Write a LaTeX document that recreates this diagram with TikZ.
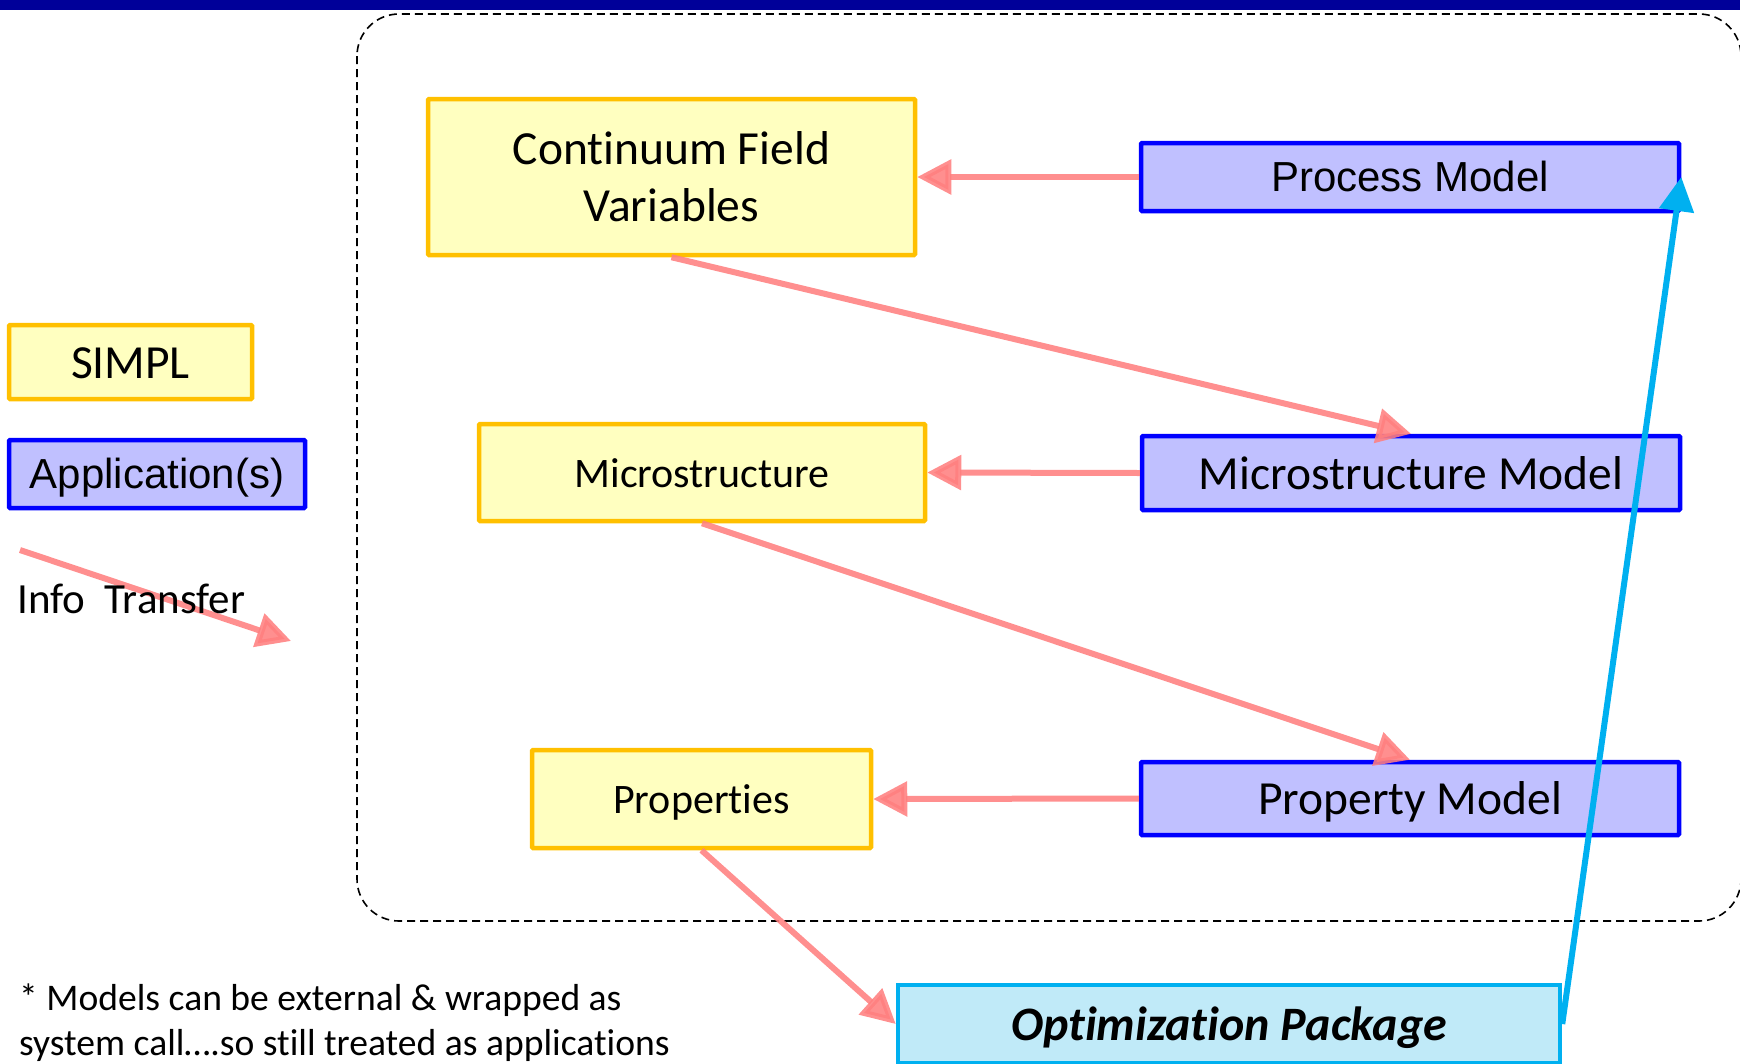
\documentclass[tikz,border=0pt]{standalone}
\usepackage{fontspec}
\setmainfont{Carlito}[Ligatures=NoCommon]
\newfontfamily\arialfont{Liberation Sans}
\usetikzlibrary{arrows.meta}

\definecolor{simplfill}{HTML}{FFFFC0}
\definecolor{simpldraw}{HTML}{FFC000}
\definecolor{appfill}{HTML}{C0C0FF}
\definecolor{appdraw}{HTML}{0000FF}
\definecolor{optfill}{HTML}{C0EAF8}
\definecolor{optdraw}{HTML}{00B0F0}
\definecolor{infored}{HTML}{FF7F7F}
\definecolor{topbar}{HTML}{000099}

\begin{document}
\begin{tikzpicture}[x=1pt, y=-1pt,
  simplbox/.style={draw=simpldraw, fill=simplfill, line width=4.5pt,
    inner sep=0pt, align=center, rounded corners=1pt},
  appbox/.style={draw=appdraw, fill=appfill, line width=4.5pt,
    inner sep=0pt, align=center, rounded corners=1pt},
  optbox/.style={draw=optdraw, fill=optfill, line width=4.5pt,
    inner sep=0pt, align=center},
  oneline/.style={text height=#1, text depth=0pt},
  bigtxt/.style={font=\fontsize{47.5}{57}\selectfont, oneline=32.8pt},
  midtxt/.style={font=\fontsize{42}{50}\selectfont, oneline=29pt},
  ariatxt/.style={font=\arialfont\fontsize{42}{50}\selectfont, oneline=29pt},
  flow/.style={draw=infored, opacity=0.88, line width=6pt,
    -{Triangle[length=34pt,width=34pt]}},
  optflow/.style={draw=optdraw, line width=6pt,
    -{Triangle[length=34pt,width=34pt]}},
  note/.style={font=\fontsize{37.6}{45}\selectfont, inner sep=0pt, anchor=base west},
]
\useasboundingbox (0,0) rectangle (1740,1063);

% title bar
\fill[topbar] (0,0) rectangle (1740,10);

% framework boundary
\draw[line width=1.6pt, dash pattern=on 8pt off 5pt, rounded corners=42pt]
  (357,14) rectangle (1741,921);

% legend
\node[simplbox, bigtxt, minimum width=243pt, minimum height=74pt] (simpl) at (130.5,362) {SIMPL};
\node[appbox, ariatxt, minimum width=296pt, minimum height=68pt] (app) at (157,474) {Application(s)};
\coordinate (itA) at (20,550);
\coordinate (itB) at (291,641);
\draw[flow] (itA) -- (itB);
\node[font=\fontsize{43}{50}\selectfont, inner sep=0pt, anchor=west] (itlabel) at (17,599) {Info\ \ Transfer};

% SIMPL data
\node[simplbox, font=\fontsize{47.5}{57}\selectfont, minimum width=487pt, minimum height=156pt] (cfv) at (671.5,177) {Continuum Field\\Variables};
\node[simplbox, midtxt, minimum width=446pt, minimum height=97pt] (ms) at (702,472.5) {Microstructure};
\node[simplbox, midtxt, minimum width=339pt, minimum height=98pt] (pr) at (701.5,799) {Properties};

% applications
\node[appbox, ariatxt, minimum width=538pt, minimum height=68pt] (pm) at (1410,177) {Process Model};
\node[appbox, bigtxt, minimum width=538pt, minimum height=74pt] (mm) at (1411,473) {Microstructure Model};
\node[appbox, bigtxt, minimum width=538pt, minimum height=73pt] (pym) at (1410,798.5) {Property Model};
\node[optbox, font=\bfseries\itshape\fontsize{48}{57}\selectfont, oneline=33pt, minimum width=662pt, minimum height=78pt] (opt) at (1229,1024) {Optimization Package};

% information transfer
\draw[flow] (pm.west) -- (cfv.east);
\draw[flow] (cfv.south) -- (mm.north);
\draw[flow] (mm.west) -- (ms.east);
\draw[flow] (ms.south) -- (pym.north);
\draw[flow] (pym.west) -- (pr.east);
\draw[flow] (pr.south) -- (opt.west);
\draw[optflow] (opt.east) -- (pm.east);

% footnote
\node[note] (fn1) at (19,1010) {* Models can be external \& wrapped as};
\node[note] (fn2) at (19,1055) {system call….so still treated as applications};
\end{tikzpicture}
\end{document}
